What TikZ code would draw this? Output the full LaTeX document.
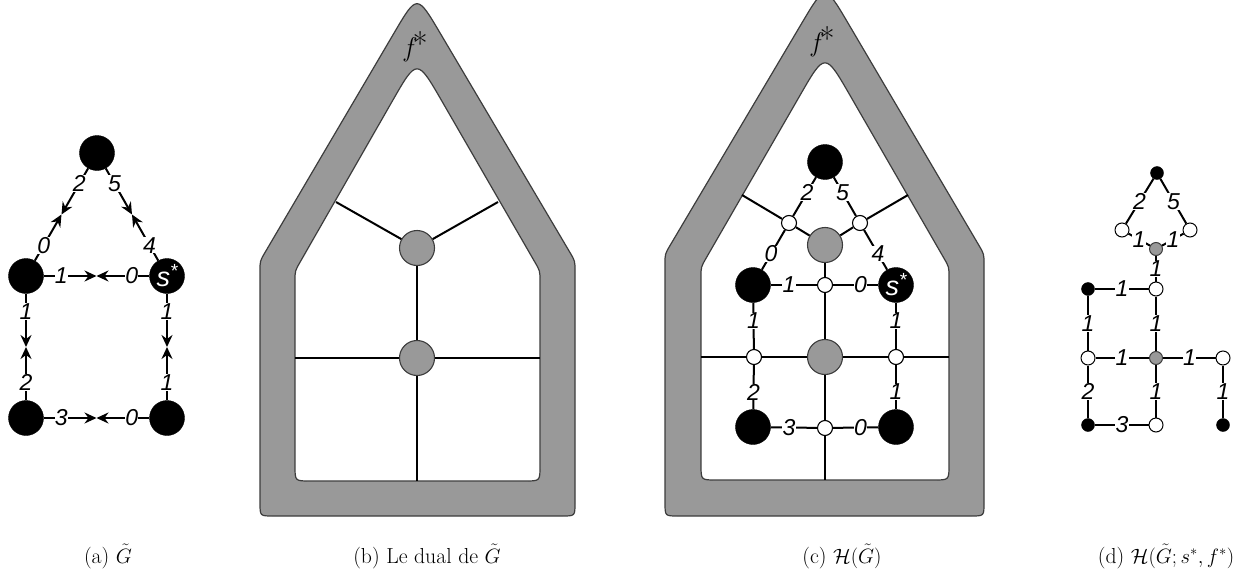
\documentclass[tikz,border=0pt]{standalone}
\usepackage{fontspec}
\usetikzlibrary{arrows.meta,calc}
\newfontfamily\labfont{Liberation Sans}
\definecolor{framegray}{RGB}{153,153,153}
\definecolor{frameedge}{RGB}{60,60,60}

% five-corner house outline with individually rounded corners
% #1..#5: bottom-left, bottom-right, right shoulder, apex, left shoulder
% #6: cut at the base corners, #7: cut at the shoulders, #8: cut at the apex
\newcommand\housepath[8]{%
  ($(#1)!#6!(#5)$) .. controls (#1) .. ($(#1)!#6!(#2)$)
  -- ($(#2)!#6!(#1)$) .. controls (#2) .. ($(#2)!#6!(#3)$)
  -- ($(#3)!#7!(#2)$) .. controls (#3) .. ($(#3)!#7!(#4)$)
  -- ($(#4)!#8!(#3)$) .. controls (#4) .. ($(#4)!#8!(#5)$)
  -- ($(#5)!#7!(#4)$) .. controls (#5) .. ($(#5)!#7!(#1)$)
  -- cycle}

\tikzset{
  blk/.style={circle,fill=black,draw=black,inner sep=0pt,minimum size=35pt},
  gry/.style={circle,fill=framegray,draw=frameedge,line width=1.1pt,inner sep=0pt,minimum size=35pt},
  wht/.style={circle,fill=white,draw=black,line width=1.1pt,inner sep=0pt,minimum size=15pt},
  sblk/.style={circle,fill=black,draw=black,inner sep=0pt,minimum size=13pt},
  sgry/.style={circle,fill=framegray,draw=frameedge,line width=1pt,inner sep=0pt,minimum size=13pt},
  swht/.style={circle,fill=white,draw=black,line width=1pt,inner sep=0pt,minimum size=14pt},
  conn/.style={line width=2pt,black},
  arr/.style={conn,-{Stealth[length=12pt,width=11pt,inset=4pt]}},
  lab/.style={font=\fontsize{23}{27}\selectfont\labfont\itshape,inner sep=0.3pt,fill=white},
  starlab/.style={text=white,font=\fontsize{27}{30}\selectfont\labfont\itshape},
  fstar/.style={font=\fontsize{27}{30}\selectfont\itshape,inner sep=0pt},
  captxt/.style={font=\fontsize{21.7}{26}\selectfont,anchor=base,inner sep=0pt},
  frameout/.style={fill=framegray,draw=frameedge,line width=1.2pt},
  framein/.style={fill=white,draw=frameedge,line width=1.2pt},
}
\newcommand\sstar{s\raisebox{0.33em}{\fontsize{19}{20}\selectfont *}}
\newcommand\fstartxt{f\kern0.5pt\raisebox{0.05em}{\fontsize{32}{34}\selectfont\upshape *}}

\begin{document}
\begin{tikzpicture}[x=1pt,y=-1pt]
\useasboundingbox[fill=white] (0,0) rectangle (1255,578);

% ---------------- (a) the graph with oriented half-edges ----------------
\node[blk] (a-t)  at (97,153)  {};
\node[blk] (a-l)  at (26,276)  {};
\node[blk,starlab] (a-r) at (167,276) {\sstar};
\node[blk] (a-bl) at (26,418)  {};
\node[blk] (a-br) at (167,418) {};

\coordinate (a-m1) at ($(a-t)!0.5!(a-l)$);
\coordinate (a-m2) at ($(a-t)!0.5!(a-r)$);
\coordinate (a-m3) at ($(a-l)!0.5!(a-r)$);
\coordinate (a-m4) at ($(a-l)!0.5!(a-bl)$);
\coordinate (a-m5) at ($(a-r)!0.5!(a-br)$);
\coordinate (a-m6) at ($(a-bl)!0.5!(a-br)$);

\draw[arr] (a-t) -- (a-m1);  \draw[arr] (a-l) -- (a-m1);
\draw[arr] (a-t) -- (a-m2);  \draw[arr] (a-r) -- (a-m2);
\draw[arr] (a-l) -- (a-m3);  \draw[arr] (a-r) -- (a-m3);
\draw[arr] (a-l) -- (a-m4);  \draw[arr] (a-bl) -- (a-m4);
\draw[arr] (a-r) -- (a-m5);  \draw[arr] (a-br) -- (a-m5);
\draw[arr] (a-bl) -- (a-m6); \draw[arr] (a-br) -- (a-m6);

\node[lab] (a-w1)  at ($(a-t)!0.5!(a-m1)$)  {2};
\node[lab] (a-w2)  at ($(a-l)!0.5!(a-m1)$)  {0};
\node[lab] (a-w3)  at ($(a-t)!0.5!(a-m2)$)  {5};
\node[lab] (a-w4)  at ($(a-r)!0.5!(a-m2)$)  {4};
\node[lab] (a-w5)  at ($(a-l)!0.5!(a-m3)$)  {1};
\node[lab] (a-w6)  at ($(a-r)!0.5!(a-m3)$)  {0};
\node[lab] (a-w7)  at ($(a-l)!0.5!(a-m4)$)  {1};
\node[lab] (a-w8)  at ($(a-bl)!0.5!(a-m4)$) {2};
\node[lab] (a-w9)  at ($(a-r)!0.5!(a-m5)$)  {1};
\node[lab] (a-w10) at ($(a-br)!0.5!(a-m5)$) {1};
\node[lab] (a-w11) at ($(a-bl)!0.5!(a-m6)$) {3};
\node[lab] (a-w12) at ($(a-br)!0.5!(a-m6)$) {0};

% ---------------- (b) the dual graph ----------------
\coordinate (bo1) at (260,516); \coordinate (bo2) at (575,516);
\coordinate (bo3) at (575,261); \coordinate (bo4) at (417,-6);
\coordinate (bo5) at (260,261);
\coordinate (bi1) at (295,481); \coordinate (bi2) at (540,481);
\coordinate (bi3) at (540,271); \coordinate (bi4) at (417,58);
\coordinate (bi5) at (295,271);
\draw[frameout] \housepath{bo1}{bo2}{bo3}{bo4}{bo5}{13pt}{10pt}{45pt};
\draw[framein]  \housepath{bi1}{bi2}{bi3}{bi4}{bi5}{15pt}{10pt}{50pt};
\node[fstar] (b-f) at (416,47) {\fstartxt};

\node[gry] (b-g1) at (417,248) {};
\node[gry] (b-g2) at (417,358) {};
\coordinate (b-e1) at (336,202);
\coordinate (b-e2) at (498,202);
\coordinate (b-e3) at (295,358);
\coordinate (b-e4) at (540,358);
\coordinate (b-e5) at (417,481);
\draw[conn] (b-g1) -- (b-e1);
\draw[conn] (b-g1) -- (b-e2);
\draw[conn] (b-g1) -- (b-g2);
\draw[conn] (b-g2) -- (b-e3);
\draw[conn] (b-g2) -- (b-e4);
\draw[conn] (b-g2) -- (b-e5);

% ---------------- (c) graph and dual together ----------------
\coordinate (co1) at (665,516); \coordinate (co2) at (984,516);
\coordinate (co3) at (984,254); \coordinate (co4) at (825,-16);
\coordinate (co5) at (665,254);
\coordinate (ci1) at (701,480); \coordinate (ci2) at (949,480);
\coordinate (ci3) at (949,267); \coordinate (ci4) at (825,52);
\coordinate (ci5) at (701,267);
\draw[frameout] \housepath{co1}{co2}{co3}{co4}{co5}{13pt}{10pt}{45pt};
\draw[framein]  \housepath{ci1}{ci2}{ci3}{ci4}{ci5}{15pt}{10pt}{50pt};
\node[fstar] (c-f) at (823,42) {\fstartxt};

\node[blk] (c-t)  at (825,162) {};
\node[blk] (c-l)  at (753,285) {};
\node[blk,starlab] (c-r) at (896,285) {\sstar};
\node[blk] (c-bl) at (753,427) {};
\node[blk] (c-br) at (896,427) {};
\node[gry] (c-g1) at (825,245) {};
\node[gry] (c-g2) at (825,357) {};
\node[wht] (c-w1) at (789,223) {};
\node[wht] (c-w2) at (860,223) {};
\node[wht] (c-w3) at (825,285) {};
\node[wht] (c-w4) at (754,357) {};
\node[wht] (c-w5) at (896,357) {};
\node[wht] (c-w6) at (825,428) {};
\coordinate (c-e1) at (742,195);
\coordinate (c-e2) at (908,195);
\coordinate (c-e3) at (701,357);
\coordinate (c-e4) at (949,357);
\coordinate (c-e5) at (825,480);

% dual connectors
\draw[conn] (c-g1) -- (c-w1) -- (c-e1);
\draw[conn] (c-g1) -- (c-w2) -- (c-e2);
\draw[conn] (c-g1) -- (c-w3);  \draw[conn] (c-w3) -- (c-g2);
\draw[conn] (c-g2) -- (c-w4);  \draw[conn] (c-w4) -- (c-e3);
\draw[conn] (c-g2) -- (c-w5);  \draw[conn] (c-w5) -- (c-e4);
\draw[conn] (c-g2) -- (c-w6);  \draw[conn] (c-w6) -- (c-e5);
% primal connectors
\draw[conn] (c-t) -- (c-w1);  \draw[conn] (c-w1) -- (c-l);
\draw[conn] (c-t) -- (c-w2);  \draw[conn] (c-w2) -- (c-r);
\draw[conn] (c-l) -- (c-w3);  \draw[conn] (c-w3) -- (c-r);
\draw[conn] (c-l) -- (c-w4);  \draw[conn] (c-w4) -- (c-bl);
\draw[conn] (c-r) -- (c-w5);  \draw[conn] (c-w5) -- (c-br);
\draw[conn] (c-bl) -- (c-w6); \draw[conn] (c-w6) -- (c-br);

\node[lab] (c-n1)  at ($(c-t)!0.5!(c-w1)$)  {2};
\node[lab] (c-n2)  at ($(c-t)!0.5!(c-w2)$)  {5};
\node[lab] (c-n3)  at ($(c-l)!0.5!(c-w1)$)  {0};
\node[lab] (c-n4)  at ($(c-r)!0.5!(c-w2)$)  {4};
\node[lab] (c-n5)  at ($(c-l)!0.5!(c-w3)$)  {1};
\node[lab] (c-n6)  at ($(c-r)!0.5!(c-w3)$)  {0};
\node[lab] (c-n7)  at ($(c-l)!0.5!(c-w4)$)  {1};
\node[lab] (c-n8)  at ($(c-bl)!0.5!(c-w4)$) {2};
\node[lab] (c-n9)  at ($(c-r)!0.5!(c-w5)$)  {1};
\node[lab] (c-n10) at ($(c-br)!0.5!(c-w5)$) {1};
\node[lab] (c-n11) at ($(c-bl)!0.5!(c-w6)$) {3};
\node[lab] (c-n12) at ($(c-br)!0.5!(c-w6)$) {0};

% ---------------- (d) the weighted graph H ----------------
\node[sblk] (d-t)  at (1157,173) {};
\node[swht] (d-wl) at (1122,230) {};
\node[swht] (d-wr) at (1190,230) {};
\node[sgry] (d-g1) at (1156,249) {};
\node[swht] (d-w1) at (1156,289) {};
\node[sblk] (d-b1) at (1088,289) {};
\node[swht] (d-w2) at (1088,358) {};
\node[sgry] (d-g2) at (1156,358) {};
\node[swht] (d-w3) at (1223,358) {};
\node[sblk] (d-b2) at (1088,425) {};
\node[swht] (d-w4) at (1156,425) {};
\node[sblk] (d-b3) at (1223,425) {};

\draw[conn] (d-t) -- (d-wl);   \draw[conn] (d-t) -- (d-wr);
\draw[conn] (d-wl) -- (d-g1);  \draw[conn] (d-wr) -- (d-g1);
\draw[conn] (d-g1) -- (d-w1);  \draw[conn] (d-b1) -- (d-w1);
\draw[conn] (d-w1) -- (d-g2);  \draw[conn] (d-b1) -- (d-w2);
\draw[conn] (d-w2) -- (d-g2);  \draw[conn] (d-g2) -- (d-w3);
\draw[conn] (d-w2) -- (d-b2);  \draw[conn] (d-b2) -- (d-w4);
\draw[conn] (d-g2) -- (d-w4);  \draw[conn] (d-w3) -- (d-b3);

\node[lab] (d-n1)  at ($(d-t)!0.5!(d-wl)$)  {2};
\node[lab] (d-n2)  at ($(d-t)!0.5!(d-wr)$)  {5};
\node[lab] (d-n3)  at ($(d-wl)!0.5!(d-g1)$) {1};
\node[lab] (d-n4)  at ($(d-wr)!0.5!(d-g1)$) {1};
\node[lab] (d-n5)  at ($(d-g1)!0.5!(d-w1)$) {1};
\node[lab] (d-n6)  at ($(d-b1)!0.5!(d-w1)$) {1};
\node[lab] (d-n7)  at ($(d-w1)!0.5!(d-g2)$) {1};
\node[lab] (d-n8)  at ($(d-b1)!0.5!(d-w2)$) {1};
\node[lab] (d-n9)  at ($(d-w2)!0.5!(d-g2)$) {1};
\node[lab] (d-n10) at ($(d-g2)!0.5!(d-w3)$) {1};
\node[lab] (d-n11) at ($(d-w2)!0.5!(d-b2)$) {2};
\node[lab] (d-n12) at ($(d-b2)!0.5!(d-w4)$) {3};
\node[lab] (d-n13) at ($(d-g2)!0.5!(d-w4)$) {1};
\node[lab] (d-n14) at ($(d-w3)!0.5!(d-b3)$) {1};

% ---------------- captions ----------------
\node[captxt] (cap-a) at (108,563)  {(a) $\tilde{G}$};
\node[captxt] (cap-b) at (427,563)  {(b) Le dual de $\tilde{G}$};
\node[captxt] (cap-c) at (842,563)  {(c) $\mathcal{H}(\tilde{G})$};
\node[captxt] (cap-d) at (1166,563) {(d) $\mathcal{H}(\tilde{G};s^*,f^*)$};
\end{tikzpicture}
\end{document}
